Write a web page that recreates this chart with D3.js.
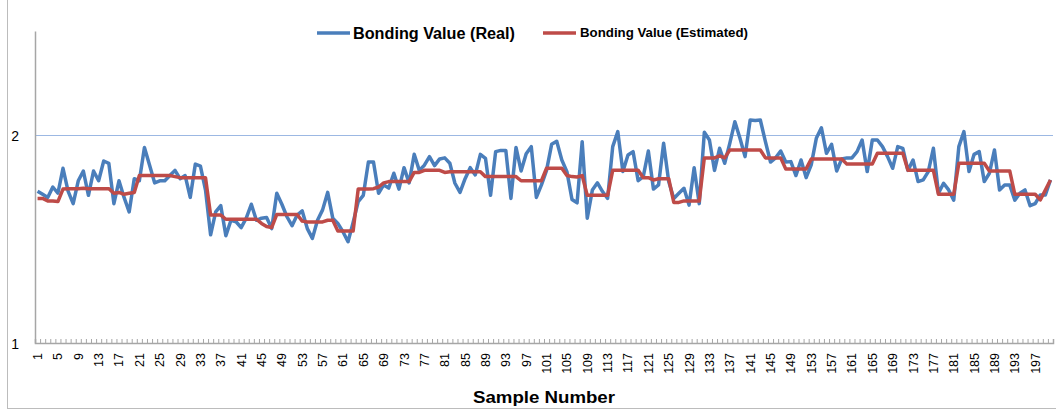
<!DOCTYPE html>
<html>
<head>
<meta charset="utf-8">
<script src="https://cdn.jsdelivr.net/npm/d3@7"></script>
<style>
  body { margin: 0; background: #fff; }
  svg { display: block; font-family: "Liberation Sans", Arial, sans-serif; }
</style>
</head>
<body>
<div id="chart"></div>
<script>
// sample numbers on the x axis
const sampleNumbers = d3.range(1, 201);
const xTickLabels = [1, 5, 9, 13, 17, 21, 25, 29, 33, 37, 41, 45, 49, 53, 57, 61, 65, 69, 73, 77,
  81, 85, 89, 93, 97, 101, 105, 109, 113, 117, 121, 125, 129, 133, 137, 141, 145, 149, 153, 157,
  161, 165, 169, 173, 177, 181, 185, 189, 193, 197];
const yTickLabels = [1, 2];

const realValues = [
  1.73, 1.715, 1.70, 1.75, 1.72, 1.84, 1.73, 1.67, 1.78, 1.827,
  1.71, 1.827, 1.78, 1.875, 1.864, 1.67, 1.78, 1.70, 1.63, 1.79,
  1.78, 1.94, 1.856, 1.77, 1.78, 1.78, 1.805, 1.83, 1.79, 1.805,
  1.70, 1.86, 1.85, 1.735, 1.52, 1.63, 1.66, 1.516, 1.59, 1.583,
  1.555, 1.60, 1.667, 1.59, 1.60, 1.603, 1.55, 1.72, 1.667, 1.607,
  1.564, 1.615, 1.635, 1.55, 1.503, 1.59, 1.64, 1.724, 1.60, 1.575,
  1.535, 1.487, 1.58, 1.68, 1.71, 1.87, 1.87, 1.72, 1.76, 1.745,
  1.816, 1.74, 1.843, 1.77, 1.907, 1.83, 1.855, 1.896, 1.853, 1.885,
  1.89, 1.864, 1.768, 1.724, 1.79, 1.843, 1.808, 1.907, 1.888, 1.71,
  1.92, 1.926, 1.926, 1.695, 1.94, 1.827, 1.91, 1.944, 1.70, 1.76,
  1.83, 1.955, 1.97, 1.88, 1.824, 1.69, 1.674, 1.968, 1.60, 1.735,
  1.77, 1.728, 1.695, 1.944, 2.016, 1.824, 1.904, 1.92, 1.78, 1.80,
  1.923, 1.74, 1.76, 1.96, 1.776, 1.695, 1.72, 1.744, 1.663, 1.843,
  1.67, 2.013, 1.976, 1.83, 1.936, 1.864, 1.96, 2.064, 1.984, 1.896,
  2.072, 2.07, 2.072, 1.968, 1.87, 1.89, 1.923, 1.87, 1.872, 1.805,
  1.88, 1.795, 1.856, 1.984, 2.035, 1.912, 1.955, 1.827, 1.885, 1.89,
  1.89, 1.92, 1.976, 1.824, 1.976, 1.976, 1.944, 1.896, 1.84, 1.944,
  1.936, 1.83, 1.88, 1.776, 1.784, 1.824, 1.936, 1.72, 1.768, 1.736,
  1.687, 1.944, 2.016, 1.824, 1.907, 1.92, 1.776, 1.816, 1.928, 1.736,
  1.76, 1.76, 1.687, 1.72, 1.736, 1.66, 1.67, 1.712, 1.712, 1.784
];

const estimatedValues = [
  1.695, 1.695, 1.683, 1.683, 1.68, 1.74, 1.742, 1.742, 1.742, 1.744,
  1.742, 1.742, 1.742, 1.742, 1.742, 1.72, 1.724, 1.715, 1.72, 1.724,
  1.805, 1.805, 1.805, 1.805, 1.805, 1.805, 1.805, 1.80, 1.795, 1.795,
  1.795, 1.795, 1.795, 1.795, 1.615, 1.615, 1.615, 1.595, 1.595, 1.595,
  1.595, 1.595, 1.595, 1.595, 1.575, 1.56, 1.555, 1.618, 1.618, 1.618,
  1.618, 1.618, 1.586, 1.582, 1.582, 1.582, 1.582, 1.59, 1.59, 1.538,
  1.538, 1.538, 1.538, 1.74, 1.74, 1.74, 1.742, 1.75, 1.77, 1.776,
  1.776, 1.776, 1.776, 1.776, 1.82, 1.82, 1.83, 1.83, 1.83, 1.83,
  1.82, 1.823, 1.823, 1.823, 1.823, 1.823, 1.823, 1.823, 1.80, 1.80,
  1.80, 1.80, 1.80, 1.80, 1.80, 1.78, 1.78, 1.78, 1.78, 1.78,
  1.84, 1.84, 1.84, 1.84, 1.805, 1.80, 1.798, 1.805, 1.71, 1.71,
  1.71, 1.71, 1.71, 1.83, 1.83, 1.83, 1.83, 1.83, 1.83, 1.795,
  1.795, 1.784, 1.79, 1.79, 1.79, 1.676, 1.676, 1.683, 1.683, 1.683,
  1.683, 1.89, 1.89, 1.89, 1.90, 1.89, 1.928, 1.928, 1.928, 1.928,
  1.928, 1.928, 1.928, 1.89, 1.89, 1.89, 1.89, 1.837, 1.837, 1.837,
  1.837, 1.837, 1.885, 1.885, 1.885, 1.885, 1.885, 1.885, 1.885, 1.86,
  1.86, 1.86, 1.86, 1.86, 1.86, 1.912, 1.912, 1.912, 1.912, 1.912,
  1.912, 1.83, 1.83, 1.83, 1.83, 1.83, 1.83, 1.715, 1.715, 1.715,
  1.715, 1.864, 1.864, 1.864, 1.864, 1.864, 1.864, 1.827, 1.827, 1.827,
  1.827, 1.827, 1.715, 1.715, 1.715, 1.715, 1.715, 1.688, 1.735, 1.784
];

const seriesNames = ["Bonding Value (Real)", "Bonding Value (Estimated)"];
const seriesColors = ["#4a7ebb", "#be4b48"];

const width = 1056;
const height = 410;
const plot = { left: 35, right: 1053, top: 31, bottom: 343 };

const svg = d3.select("#chart").append("svg")
    .attr("width", width)
    .attr("height", height);

// outer chart frame (only left and bottom edges visible)
svg.append("rect")
    .attr("x", 7.5).attr("y", -10)
    .attr("width", 1100).attr("height", 418.5)
    .attr("fill", "none")
    .attr("stroke", "#bcbcbc");

/* Scales */
const x = d3.scaleBand()
    .domain(sampleNumbers)
    .range([plot.left, plot.right])
    .padding(0);

const xEdges = d3.scaleLinear()
    .domain([0, sampleNumbers.length])
    .range([plot.left, plot.right]);

const y = d3.scaleLinear()
    .domain([1, 2.5])
    .range([plot.bottom, plot.top]);

// gridline at 2
svg.append("g")
    .selectAll("line")
    .data(yTickLabels.filter(d => d > 1))
    .enter().append("line")
    .attr("x1", plot.left).attr("x2", plot.right)
    .attr("y1", d => Math.round(y(d)) + 0.5).attr("y2", d => Math.round(y(d)) + 0.5)
    .attr("stroke", "#9cb8e3")
    .attr("stroke-width", 1);

/* Axes */
const yAxis = svg.append("g")
    .attr("class", "y axis")
    .attr("transform", `translate(${plot.left}, 0)`)
    .call(d3.axisLeft(y).tickValues(yTickLabels).tickSize(0).tickPadding(16).tickFormat(d3.format("d")));
yAxis.select(".domain").attr("stroke", "#a6a6a6").attr("stroke-width", 1.5);
yAxis.selectAll("text").attr("font-size", 14).attr("fill", "#000").attr("dy", "0.42em");

// inside tick marks at category boundaries
const xTicks = svg.append("g")
    .attr("class", "x ticks")
    .attr("transform", `translate(0, ${plot.bottom})`)
    .call(d3.axisBottom(xEdges).tickValues(d3.range(0, sampleNumbers.length + 1)).tickSize(-4).tickFormat(""));
xTicks.selectAll(".tick line").attr("stroke", "#a6a6a6");
xTicks.select(".domain").attr("stroke", "#a6a6a6").attr("stroke-width", 1.5);

// category labels every 4th sample
const xAxis = svg.append("g")
    .attr("class", "x axis")
    .attr("transform", `translate(0, ${plot.bottom})`)
    .call(d3.axisBottom(x).tickValues(xTickLabels).tickSize(0));
xAxis.select(".domain").remove();
xAxis.selectAll("text")
    .attr("transform", "rotate(-90)")
    .attr("text-anchor", "end")
    .attr("x", -10)
    .attr("y", 0)
    .attr("dy", "0.36em")
    .attr("font-size", 12.5)
    .attr("fill", "#000");

svg.append("text")
    .attr("x", (plot.left + plot.right) / 2)
    .attr("y", 403)
    .attr("text-anchor", "middle")
    .attr("font-size", 16)
    .attr("font-weight", "bold")
    .attr("textLength", 142)
    .attr("lengthAdjust", "spacingAndGlyphs")
    .text("Sample Number");

/* Lines */
const line = d3.line()
    .x((d, i) => x(sampleNumbers[i]) + x.bandwidth() / 2)
    .y(d => y(d));

[realValues, estimatedValues].forEach((values, k) => {
    svg.append("path")
        .attr("class", "line" + (k + 1))
        .attr("d", line(values))
        .attr("fill", "none")
        .attr("stroke", seriesColors[k])
        .attr("stroke-width", 3.5)
        .attr("stroke-linejoin", "round");
});

/* Legend */
const legendItems = [
    { x: 317, textX: 353, size: 16, len: 162 },
    { x: 543, textX: 580, size: 12.5, len: 168 }
];
const legend = svg.append("g").attr("class", "legend");
legendItems.forEach((it, k) => {
    legend.append("line")
        .attr("x1", it.x).attr("x2", it.x + 33)
        .attr("y1", 33).attr("y2", 33)
        .attr("stroke", seriesColors[k])
        .attr("stroke-width", 3.5);
    legend.append("text")
        .attr("x", it.textX)
        .attr("y", 33)
        .attr("dy", "0.35em")
        .attr("font-size", it.size)
        .attr("font-weight", "bold")
        .attr("textLength", it.len)
        .attr("lengthAdjust", "spacingAndGlyphs")
        .text(seriesNames[k]);
});
</script>
</body>
</html>
